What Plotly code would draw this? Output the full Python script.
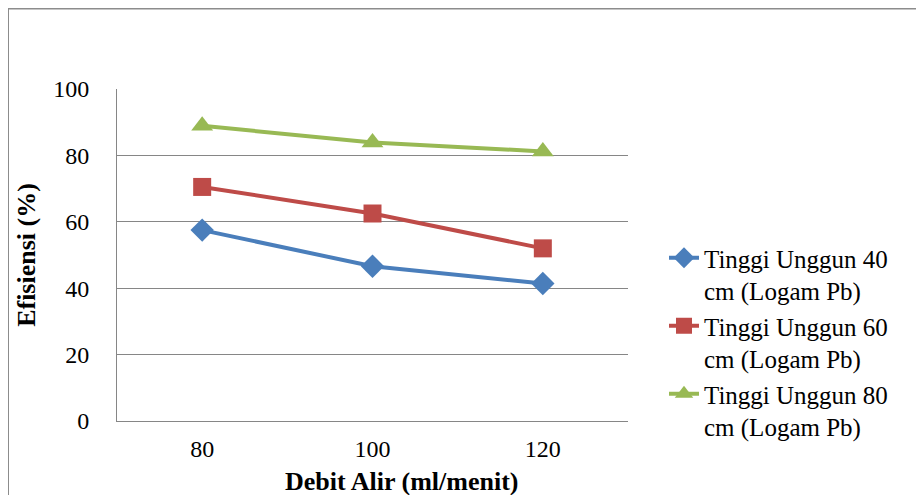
import plotly.graph_objects as go

categories = ["80", "100", "120"]
series_names = [
    "Tinggi Unggun 40<br>cm (Logam Pb)",
    "Tinggi Unggun 60<br>cm (Logam Pb)",
    "Tinggi Unggun 80<br>cm (Logam Pb)",
]
tinggi_40 = [57.5, 46.6, 41.4]
tinggi_60 = [70.5, 62.5, 52.0]
tinggi_80 = [88.9, 83.9, 81.2]
y_ticks = [0, 20, 40, 60, 80, 100]
x_title = "Debit Alir (ml/menit)"
y_title = "Efisiensi (%)"

colors = ["#4A7EBB", "#BE4B48", "#98B954"]
symbols = ["diamond", "square", "triangle-up"]
sizes = [18, 18, 19]
values = [tinggi_40, tinggi_60, tinggi_80]

FONT = "Liberation Serif"

fig = go.Figure()
for name, vals, c, s, sz in zip(series_names, values, colors, symbols, sizes):
    fig.add_trace(go.Scatter(
        x=categories, y=vals, name=name, mode="lines+markers",
        line=dict(color=c, width=4),
        marker=dict(symbol=s, size=sz, color=c),
    ))

# page has an 8px body margin; figure coords = page coords - 8
L, R, T, B = 109, 304, 81, 82
W, H = 924, 495
pw, ph = W - L - R, H - T - B

fig.update_layout(
    width=W, height=H,
    margin=dict(l=L, r=R, t=T, b=B),
    paper_bgcolor="white", plot_bgcolor="white",
    font=dict(family=FONT, color="black", size=24),
    showlegend=True,
    legend=dict(
        x=(656 - L) / pw, y=(H - B - 227) / ph, xanchor="left", yanchor="top",
        font=dict(family=FONT, size=25, color="black"),
        valign="top", tracegroupgap=0,
        bgcolor="rgba(0,0,0,0)",
    ),
    xaxis=dict(
        type="category", range=[-0.5, 2.5],
        showline=True, linecolor="#868686", linewidth=1,
        showgrid=False, ticks="", ticklabelstandoff=6,
        tickfont=dict(family=FONT, size=24),
    ),
    yaxis=dict(
        range=[0, 100], tickvals=y_ticks,
        showline=True, linecolor="#868686", linewidth=1,
        showgrid=True, gridcolor="#868686", gridwidth=1,
        zeroline=False, ticks="", ticklabelstandoff=22,
        tickfont=dict(family=FONT, size=24),
        title=dict(text="<b>" + y_title + "</b>", font=dict(family=FONT, size=26), standoff=10),
    ),
    annotations=[dict(
        text="<b>" + x_title + "</b>", xref="paper", yref="paper",
        x=(393 - L) / pw, y=(H - B - 473) / ph, xanchor="center", yanchor="middle",
        showarrow=False, font=dict(family=FONT, size=26, color="black"),
    )],
)

# outer chart border (top and left edges visible)
fig.add_shape(type="rect", xref="paper", yref="paper",
              x0=(0 - L) / pw, x1=(935 - L) / pw,
              y0=(H - B - 510) / ph, y1=(H - B - 0.5) / ph,
              line=dict(color="#8C8C8C", width=2), layer="below")

fig.write_html("out.html")
